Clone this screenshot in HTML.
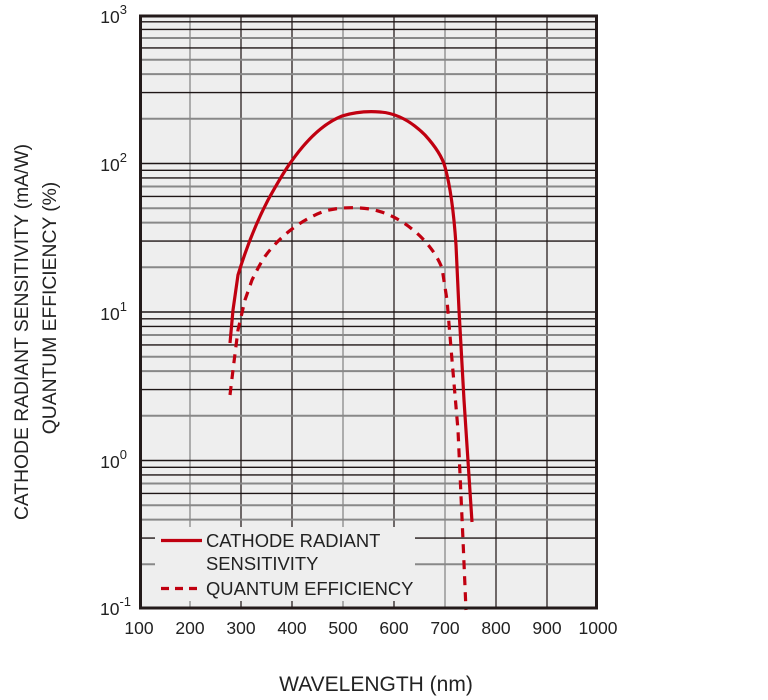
<!DOCTYPE html>
<html><head><meta charset="utf-8"><style>
html,body{margin:0;padding:0;background:#fff;}
svg{display:block;font-family:"Liberation Sans",sans-serif;}
</style></head><body>
<svg width="768" height="700" viewBox="0 0 768 700" xmlns="http://www.w3.org/2000/svg">
<rect x="139" y="15" width="459" height="594" fill="#eeeeee"/>
<g stroke-width="1.3">
<line x1="190" y1="15" x2="190" y2="609" stroke="#888"/>
<line x1="241" y1="15" x2="241" y2="609" stroke="#2a2020"/>
<line x1="292" y1="15" x2="292" y2="609" stroke="#2a2020"/>
<line x1="343" y1="15" x2="343" y2="609" stroke="#888"/>
<line x1="394" y1="15" x2="394" y2="609" stroke="#2a2020"/>
<line x1="445" y1="15" x2="445" y2="609" stroke="#888"/>
<line x1="496" y1="15" x2="496" y2="609" stroke="#2a2020"/>
<line x1="547" y1="15" x2="547" y2="609" stroke="#2a2020"/>
</g>
<path stroke="#1e1616" stroke-width="1.4" fill="none" d="
M139 163.5H598 M139 312H598 M139 460.5H598
M139 467.3H598 M139 474.9H598 M139 493.4H598 M139 538.1H598
M139 318.8H598 M139 326.4H598 M139 344.9H598 M139 389.6H598
M139 170.3H598 M139 177.9H598 M139 196.4H598 M139 241.1H598
M139 21.8H598 M139 29.4H598 M139 47.9H598 M139 92.6H598"/>
<path stroke="#888" stroke-width="2" fill="none" d="
M139 483.5H598 M139 505.2H598 M139 519.6H598 M139 564.3H598
M139 335H598 M139 356.7H598 M139 371.1H598 M139 415.8H598
M139 186.5H598 M139 208.2H598 M139 222.6H598 M139 267.3H598
M139 38H598 M139 59.7H598 M139 74.1H598 M139 118.8H598"/>
<rect x="155" y="527" width="260" height="74" fill="#eeeeee"/>
<path fill="none" stroke="#c00010" stroke-width="3.2" d="M230 343 L233 310 L238 275 C245 252 255 225 268 200 C278 182 285 170 291 162 C305 142 322 124 342 116 C355 112 368 111 380 112 C395 113 410 120 425 135 C435 146 442 156 445 167 C450 185 454 215 456 245 L459 310 L464 400 L472 522"/>
<path fill="none" stroke="#c00010" stroke-width="3.2" stroke-dasharray="9,7" d="M230 395 L233 370 L238 330 L245 300 L252 280 C258 268 263 258 270 250 C285 232 305 218 325 211 C340 207 355 207 370 209 C390 213 405 222 420 236 C432 248 438 258 442 268 L447 300 L452 360 L458 430 L463 540 L466 610"/>
<rect x="140.5" y="16" width="456" height="592" fill="none" stroke="#231a1a" stroke-width="3"/>
<line x1="161" y1="540.5" x2="202" y2="540.5" stroke="#c00010" stroke-width="3.2"/>
<line x1="161" y1="588.5" x2="202" y2="588.5" stroke="#c00010" stroke-width="3.2" stroke-dasharray="8,6"/>
<g font-size="18.4" fill="#222">
<text x="206" y="547">CATHODE RADIANT</text>
<text x="206" y="570">SENSITIVITY</text>
<text x="206" y="595">QUANTUM EFFICIENCY</text>
</g>
<g font-size="17.5" fill="#222" text-anchor="end">
<text x="127" y="23">10<tspan font-size="13" dy="-9">3</tspan></text>
<text x="127" y="171">10<tspan font-size="13" dy="-9">2</tspan></text>
<text x="127" y="320">10<tspan font-size="13" dy="-9">1</tspan></text>
<text x="127" y="468">10<tspan font-size="13" dy="-9">0</tspan></text>
<text x="131" y="615">10<tspan font-size="13" dy="-9">-1</tspan></text>
</g>
<g font-size="17.5" fill="#222" text-anchor="middle">
<text x="139" y="634">100</text>
<text x="190" y="634">200</text>
<text x="241" y="634">300</text>
<text x="292" y="634">400</text>
<text x="343" y="634">500</text>
<text x="394" y="634">600</text>
<text x="445" y="634">700</text>
<text x="496" y="634">800</text>
<text x="547" y="634">900</text>
<text x="598" y="634">1000</text>
</g>
<text x="376" y="691" font-size="21" fill="#222" text-anchor="middle">WAVELENGTH (nm)</text>
<g font-size="19.3" fill="#222" text-anchor="middle">
<text transform="translate(28,332) rotate(-90)">CATHODE RADIANT SENSITIVITY (mA/W)</text>
<text transform="translate(56,308) rotate(-90)">QUANTUM EFFICIENCY (%)</text>
</g>
</svg>
</body></html>
